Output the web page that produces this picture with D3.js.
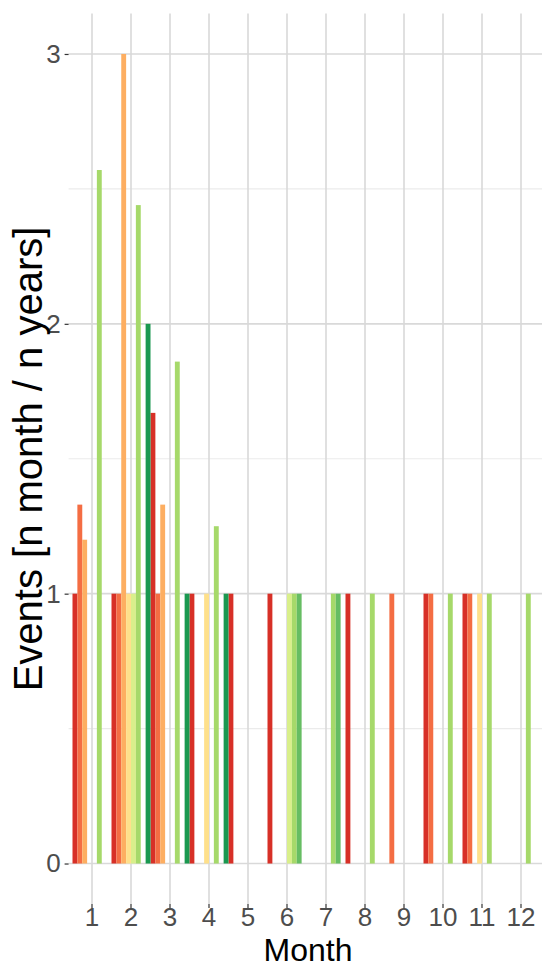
<!DOCTYPE html>
<html>
<head>
<meta charset="utf-8">
<script src="https://cdn.jsdelivr.net/npm/d3@7/dist/d3.min.js"></script>
<style>
  html, body { margin: 0; padding: 0; background: #ffffff; }
  svg { display: block; }
</style>
</head>
<body>
<svg id="chart" width="542" height="967"></svg>
<script>
// ---- DATA ----
const months = ["1","2","3","4","5","6","7","8","9","10","11","12"];
const seriesKeys = ["s1","s2","s3","s4","s5","s6","s7","s8"];
const seriesColors = ["#d73027","#f46d43","#fdae61","#fee08b","#d9ef8b","#a6d96a","#66bd63","#1a9850"];
const s1 = [1, 1, 1.67, 1, 1, 1, 0, 1, 0, 1, 1, 0];
const s2 = [1.33, 1, 1, 0, 0, 0, 0, 0, 1, 1, 1, 0];
const s3 = [1.2, 3, 1.33, 0, 0, 0, 0, 0, 0, 0, 0, 0];
const s4 = [0, 1, 0, 1, 0, 0, 0, 0, 0, 0, 1, 0];
const s5 = [0, 1, 0, 0, 0, 1, 0, 0, 0, 0, 0, 0];
const s6 = [2.57, 2.44, 1.86, 1.25, 0, 1, 1, 1, 0, 1, 1, 1];
const s7 = [0, 0, 0, 0, 0, 1, 1, 0, 0, 0, 0, 0];
const s8 = [0, 2, 1, 1, 0, 0, 0, 0, 0, 0, 0, 0];
const seriesValues = [s1, s2, s3, s4, s5, s6, s7, s8];
const yMajorTicks = [0, 1, 2, 3];
const yMinorTicks = [0.5, 1.5, 2.5];
const xTitle = "Month";
const yTitle = "Events [n month / n years]";

// ---- LAYOUT ----
const W = 542, H = 967;
const panel = { left: 68.6, right: 544.4, top: 13.5, bottom: 904 };
const fontFamily = "'Liberation Sans', Arial, sans-serif";

const svg = d3.select("#chart");

const x = d3.scaleBand().domain(months).range([72.5, 540.5]).paddingInner(0).paddingOuter(0);
const xSub = d3.scaleBand().domain(seriesKeys).range([0, x.bandwidth()]).padding(0);
const y = d3.scaleLinear().domain([-0.15, 3.15]).range([panel.bottom, panel.top]);
const color = d3.scaleOrdinal().domain(seriesKeys).range(seriesColors);

// grid
const grid = svg.append("g");
grid.selectAll("line.minor").data(yMinorTicks).join("line")
  .attr("x1", panel.left).attr("x2", W)
  .attr("y1", d => y(d)).attr("y2", d => y(d))
  .attr("stroke", "#ebebeb").attr("stroke-width", 1.2);
grid.selectAll("line.majy").data(yMajorTicks).join("line")
  .attr("x1", panel.left).attr("x2", W)
  .attr("y1", d => y(d)).attr("y2", d => y(d))
  .attr("stroke", "#d9d9d9").attr("stroke-width", 1.6);
grid.selectAll("line.majx").data(months).join("line")
  .attr("x1", d => x(d) + x.bandwidth() / 2).attr("x2", d => x(d) + x.bandwidth() / 2)
  .attr("y1", panel.top).attr("y2", panel.bottom)
  .attr("stroke", "#d9d9d9").attr("stroke-width", 1.6);

// bars
const flat = [];
seriesKeys.forEach((k, si) => {
  months.forEach((m, mi) => {
    flat.push({ key: k, month: m, value: seriesValues[si][mi] });
  });
});
svg.append("g").selectAll("rect").data(flat.filter(d => d.value > 0)).join("rect")
  .attr("x", d => x(d.month) + xSub(d.key))
  .attr("width", xSub.bandwidth())
  .attr("y", d => y(d.value))
  .attr("height", d => y(0) - y(d.value))
  .attr("fill", d => color(d.key));

// axes
const yAxis = svg.append("g").attr("transform", `translate(${panel.left},0)`)
  .call(d3.axisLeft(y).tickValues(yMajorTicks).tickFormat(d3.format("d")).tickSize(4).tickPadding(4));
const xAxis = svg.append("g").attr("transform", `translate(0,${panel.bottom})`)
  .call(d3.axisBottom(x).tickSize(4).tickPadding(0));
[yAxis, xAxis].forEach(a => {
  a.select(".domain").remove();
  a.selectAll(".tick line").attr("stroke", "#333333").attr("stroke-width", 1.2);
  a.selectAll(".tick text").attr("fill", "#4d4d4d")
    .style("font-family", fontFamily).style("font-size", "26px");
});

// titles
svg.append("text").attr("x", 308).attr("y", 961).attr("text-anchor", "middle")
  .style("font-family", fontFamily).style("font-size", "32px")
  .attr("fill", "#000").text(xTitle);
svg.append("text").attr("transform", "translate(42,459) rotate(-90)").attr("text-anchor", "middle")
  .style("font-family", fontFamily).style("font-size", "40px")
  .attr("fill", "#000").text(yTitle);
</script>
</body>
</html>
